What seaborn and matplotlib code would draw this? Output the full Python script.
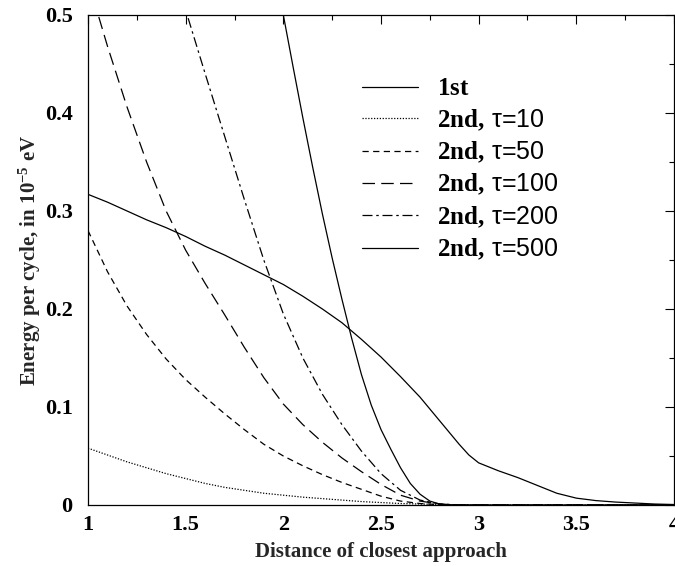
import matplotlib
matplotlib.use("Agg")
import matplotlib.pyplot as plt
from matplotlib.ticker import MultipleLocator
import seaborn as sns
import pandas as pd

# ---- data ----
x_first = [1.0, 1.1, 1.2, 1.3, 1.4, 1.5, 1.6, 1.7, 1.8, 1.9, 2.0, 2.1, 2.2, 2.3, 2.4, 2.5,
           2.6, 2.7, 2.8, 2.9, 2.95, 3.0, 3.05, 3.1, 3.2, 3.3, 3.4, 3.5, 3.6, 3.7, 3.8,
           3.9, 4.0]
y_first = [0.317, 0.309, 0.300, 0.291, 0.283, 0.274, 0.264, 0.255, 0.245, 0.235, 0.225,
           0.213, 0.200, 0.186, 0.169, 0.151, 0.131, 0.110, 0.086, 0.062, 0.051, 0.043,
           0.039, 0.035, 0.028, 0.020, 0.012, 0.007, 0.0045, 0.003, 0.002, 0.001, 0.0005]

x_t10 = [1.0, 1.1, 1.2, 1.3, 1.4, 1.5, 1.6, 1.7, 1.8, 1.9, 2.0, 2.1, 2.2, 2.3, 2.4, 2.5,
         2.6, 2.7, 2.8, 2.9, 3.0, 4.0]
y_t10 = [0.058, 0.051, 0.044, 0.038, 0.032, 0.027, 0.022, 0.018, 0.015, 0.012, 0.010,
         0.008, 0.0065, 0.005, 0.0035, 0.0025, 0.0015, 0.001, 0.0005, 0.0002, 0.0, 0.0]

x_t50 = [1.0, 1.1, 1.2, 1.3, 1.4, 1.5, 1.6, 1.7, 1.8, 1.9, 2.0, 2.1, 2.2, 2.3, 2.4, 2.5,
         2.6, 2.7, 2.8, 2.9, 4.0]
y_t50 = [0.280, 0.238, 0.203, 0.174, 0.149, 0.128, 0.110, 0.093, 0.077, 0.062, 0.050,
         0.040, 0.031, 0.023, 0.016, 0.009, 0.004, 0.0015, 0.0003, 0.0, 0.0]

x_t100 = [1.0, 1.1, 1.2, 1.3, 1.4, 1.5, 1.6, 1.7, 1.8, 1.9, 2.0, 2.1, 2.2, 2.3, 2.4, 2.5,
          2.6, 2.7, 2.8, 2.9, 4.0]
y_t100 = [0.535, 0.468, 0.406, 0.350, 0.300, 0.260, 0.226, 0.194, 0.161, 0.130, 0.103,
          0.082, 0.064, 0.048, 0.034, 0.021, 0.010, 0.004, 0.001, 0.0, 0.0]

x_t200 = [1.4, 1.5, 1.6, 1.7, 1.8, 1.9, 2.0, 2.1, 2.2, 2.3, 2.4, 2.5, 2.6, 2.7, 2.8, 2.9, 4.0]
y_t200 = [0.572, 0.505, 0.440, 0.376, 0.312, 0.250, 0.195, 0.150, 0.113, 0.082, 0.055,
          0.032, 0.015, 0.005, 0.001, 0.0, 0.0]

x_t500 = [1.9, 1.95, 2.0, 2.05, 2.1, 2.15, 2.2, 2.25, 2.3, 2.35, 2.4, 2.45, 2.5, 2.55,
          2.6, 2.65, 2.7, 2.75, 2.8, 2.85, 4.0]
y_t500 = [0.605, 0.553, 0.500, 0.447, 0.395, 0.345, 0.297, 0.252, 0.210, 0.170, 0.133,
          0.102, 0.077, 0.057, 0.038, 0.022, 0.011, 0.004, 0.001, 0.0, 0.0]

labels = [r"$1st$", r"$2nd,\,$τ=10", r"$2nd,\,$τ=50", r"$2nd,\,$τ=100",
          r"$2nd,\,$τ=200", r"$2nd,\,$τ=500"]
xs = [x_first, x_t10, x_t50, x_t100, x_t200, x_t500]
ys = [y_first, y_t10, y_t50, y_t100, y_t200, y_t500]

x_ticks = [1, 1.5, 2, 2.5, 3, 3.5, 4]
x_ticklabels = ["1", "1.5", "2", "2.5", "3", "3.5", "4"]
y_ticks = [0, 0.1, 0.2, 0.3, 0.4, 0.5]
y_ticklabels = ["0", "0.1", "0.2", "0.3", "0.4", "0.5"]

# ---- style ----
sns.set_theme(style="white")
plt.rcParams["font.family"] = ["Liberation Serif", "DejaVu Serif"]
plt.rcParams["font.weight"] = "bold"
plt.rcParams["mathtext.fontset"] = "custom"
plt.rcParams["mathtext.rm"] = "Liberation Serif:bold"
plt.rcParams["mathtext.bf"] = "Liberation Serif:bold"
plt.rcParams["mathtext.it"] = "Liberation Serif:bold"
plt.rcParams["mathtext.default"] = "bf"

styles = [
    "-",
    (0, (1.0, 1.3)),
    (0, (5.0, 3.5)),
    (0, (10.0, 5.0)),
    (0, (8.0, 3.0, 2.0, 3.0)),
    "-",
]

fig = plt.figure(figsize=(6.75, 5.66), dpi=100)
ax = fig.add_axes([88 / 675, 61 / 566, 586 / 675, 490 / 566])

for xv, yv, lab, ls in zip(xs, ys, labels, styles):
    df = pd.DataFrame({"x": xv, "y": yv})
    sns.lineplot(data=df, x="x", y="y", ax=ax, color="black", linewidth=0.9,
                 linestyle=ls, label=lab, sort=False, estimator=None)

ax.set_xlim(1, 4)
ax.set_ylim(0, 0.5)
ax.set_xticks(x_ticks)
ax.set_xticklabels(x_ticklabels)
ax.set_yticks(y_ticks)
ax.set_yticklabels(y_ticklabels)
ax.xaxis.set_minor_locator(MultipleLocator(0.25))
ax.yaxis.set_minor_locator(MultipleLocator(0.05))
ax.tick_params(which="both", direction="in", top=True, right=True, colors="black",
               width=0.8)
ax.tick_params(which="major", length=6.5, labelsize=16)
ax.tick_params(axis="y", which="major", pad=11)
ax.tick_params(axis="x", which="major", pad=7)
ax.tick_params(which="minor", length=3.5)
for lbl in ax.get_xticklabels() + ax.get_yticklabels():
    lbl.set_fontweight("bold")

for s in ax.spines.values():
    s.set_color("black")
    s.set_linewidth(0.9)

ax.set_xlabel("Distance of closest approach", fontsize=15, fontweight="bold", labelpad=5)
ax.set_ylabel(r"Energy per cycle, in 10$^{-5}$ eV", fontsize=15, fontweight="bold",
              labelpad=1)

leg = ax.legend(loc="upper left", bbox_to_anchor=(0.468, 0.875), frameon=False,
                borderaxespad=0, borderpad=0, handlelength=2.25, handletextpad=0.75,
                labelspacing=0.28,
                prop={"family": ["Liberation Sans", "DejaVu Sans"], "size": 18,
                      "weight": "normal"})
for t in leg.get_texts():
    t.set_color("black")

fig.savefig("out.png", dpi=100)
